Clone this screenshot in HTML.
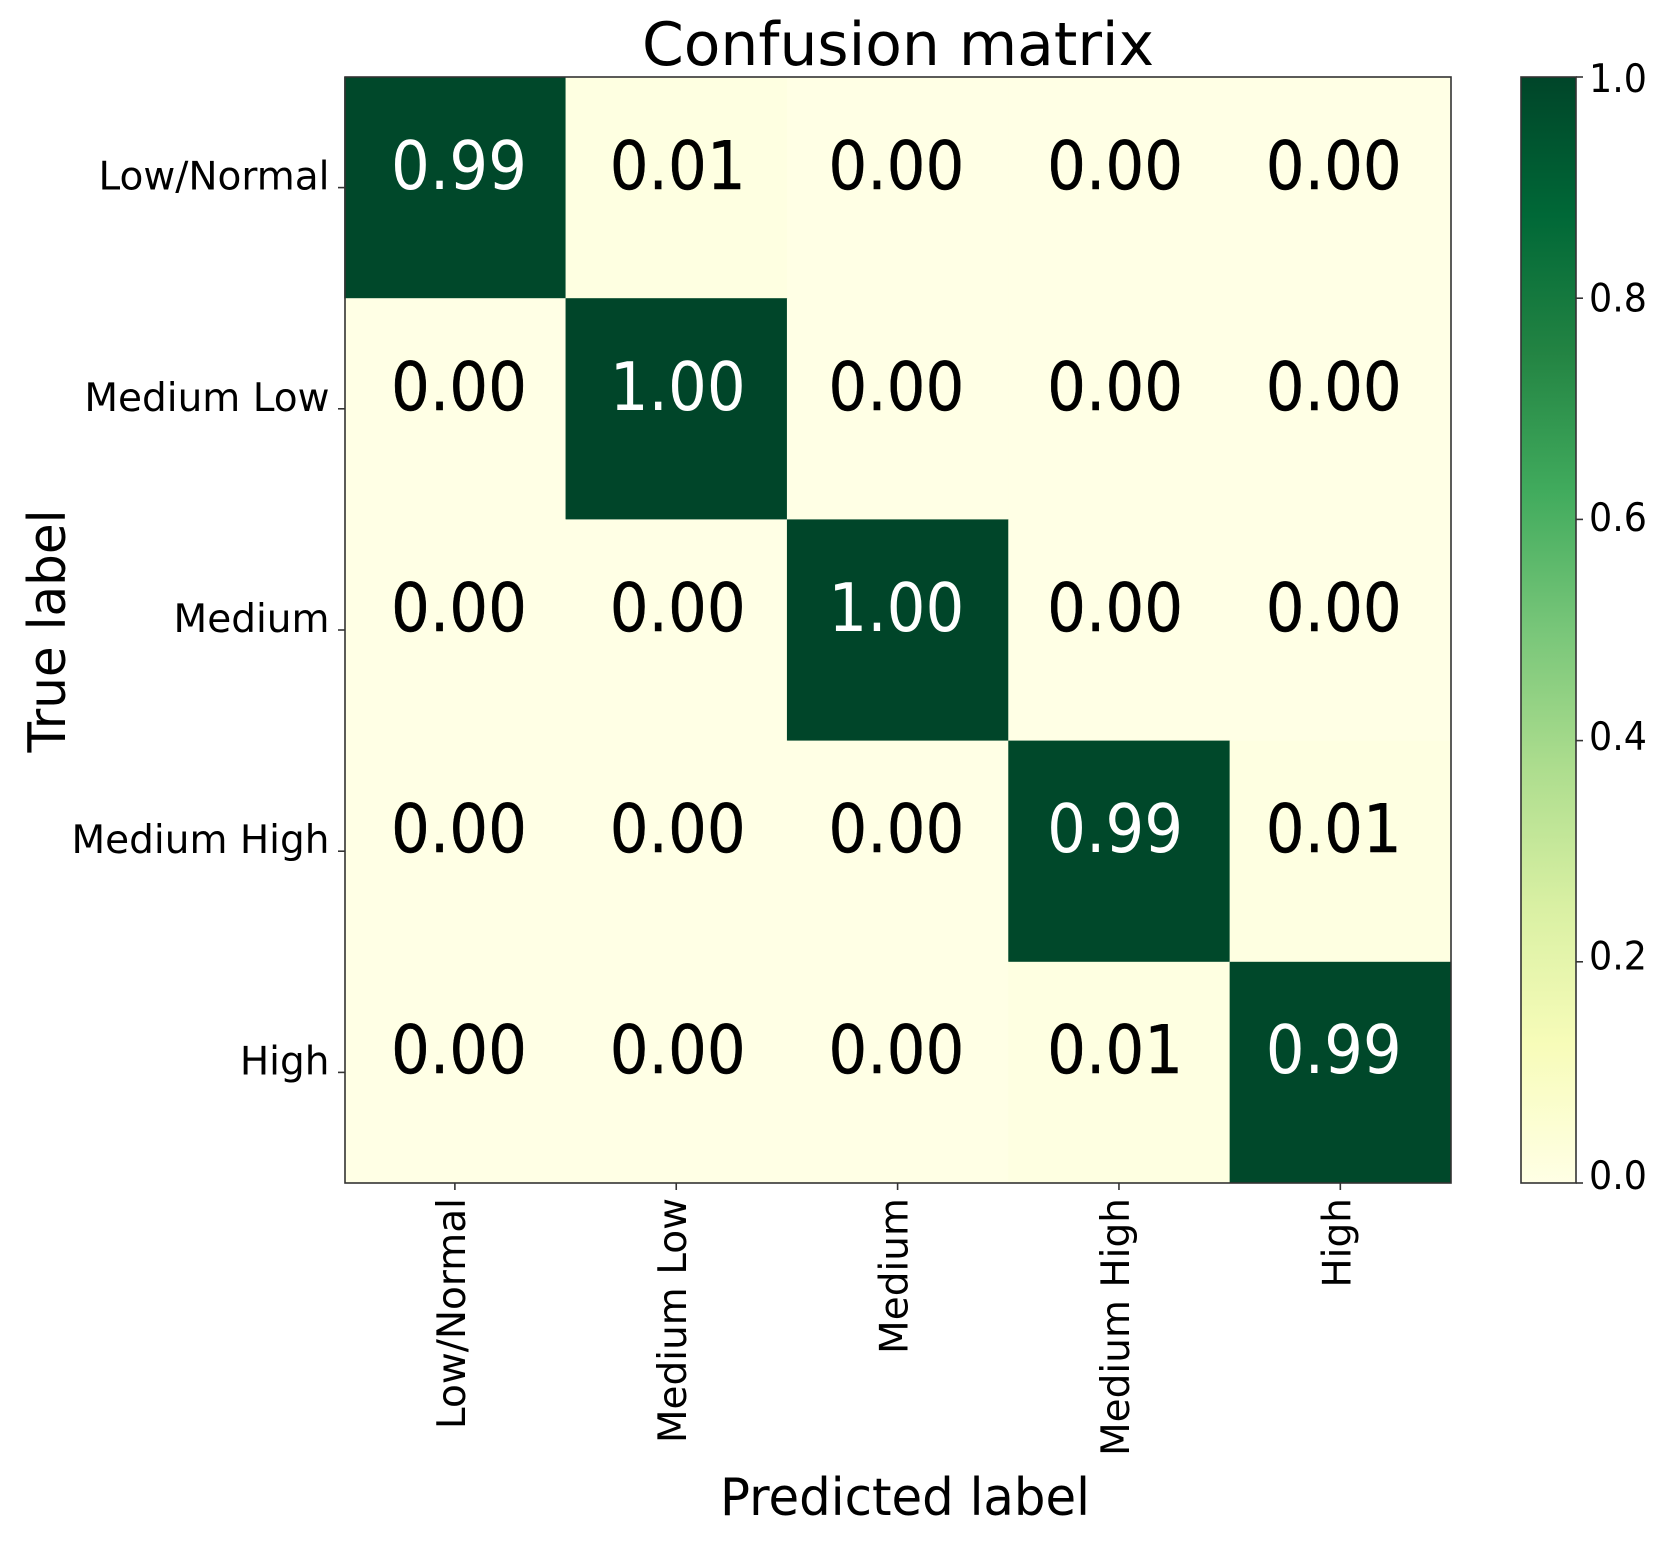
<!DOCTYPE html>
<html lang="en">
<head>
<meta charset="utf-8">
<title>Confusion matrix</title>
<style>
  html, body { margin: 0; padding: 0; background: #ffffff; }
  body { width: 1672px; height: 1547px; overflow: hidden; }
  svg { display: block; }
  text { font-family: "DejaVu Sans", "Liberation Sans", sans-serif; fill: #000; }
</style>
</head>
<body>
<svg id="chart" xmlns="http://www.w3.org/2000/svg" width="1672" height="1547" viewBox="0 0 1672 1547">
  <defs>
    <linearGradient id="ylgn" x1="0" y1="1" x2="0" y2="0"></linearGradient>
  </defs>
  <rect x="0" y="0" width="1672" height="1547" fill="#ffffff"></rect>
  <text x="898" y="65" font-size="60" text-anchor="middle" textLength="512" lengthAdjust="spacingAndGlyphs">Confusion matrix</text>
  <text x="905" y="1515" font-size="52" text-anchor="middle" textLength="370" lengthAdjust="spacingAndGlyphs">Predicted label</text>
  <text transform="translate(65,631) rotate(-90)" font-size="52" text-anchor="middle" textLength="243" lengthAdjust="spacingAndGlyphs">True label</text>
  <g id="cells"></g>
  <g id="values"></g>
  <rect x="345" y="77" width="1106" height="1106" fill="none" stroke="#333333" stroke-width="1.6"></rect>
  <g id="x-ticks"></g>
  <g id="y-ticks"></g>
  <rect x="1521" y="77" width="55" height="1106" fill="url(#ylgn)" stroke="#333333" stroke-width="1.6"></rect>
  <g id="cbar-ticks"></g>
</svg>
<script>
const classLabels = ["Low/Normal", "Medium Low", "Medium", "Medium High", "High"];
const row0 = [0.99, 0.01, 0.00, 0.00, 0.00];
const row1 = [0.00, 1.00, 0.00, 0.00, 0.00];
const row2 = [0.00, 0.00, 1.00, 0.00, 0.00];
const row3 = [0.00, 0.00, 0.00, 0.99, 0.01];
const row4 = [0.00, 0.00, 0.00, 0.01, 0.99];
const matrixRows = [row0, row1, row2, row3, row4];
const colorbarTicks = [0.0, 0.2, 0.4, 0.6, 0.8, 1.0];
const colormap = ["#ffffe5", "#f7fcb9", "#d9f0a3", "#addd8e", "#78c679", "#41ab5d", "#238443", "#006837", "#004529"];

const NS = "http://www.w3.org/2000/svg";
const plot = { left: 344.2, top: 77, width: 1106.8, height: 1106 };
const bar = { left: 1521, right: 1576, top: 77, bottom: 1183 };
const cellW = plot.width / classLabels.length;
const cellH = plot.height / classLabels.length;

function colX(i) { return plot.left + i * cellW; }
function rowY(i) { return plot.top + i * cellH; }
function tickX(i) { return colX(i) + cellW / 2; }
function tickY(i) { return rowY(i) + cellH / 2; }
function valueX(i) { return 459 + i * 218.7; }
function valueY(i) { return 189 + i * 221; }
function cbarY(v) { return bar.bottom - v * (bar.bottom - bar.top); }
function cbarLabelY(v) { return 1189 - v * 1097; }

function hexToRgb(h) {
  return [1, 3, 5].map(function (p) { return parseInt(h.substr(p, 2), 16); });
}
function cmap(v) {
  const t = Math.max(0, Math.min(1, v)) * (colormap.length - 1);
  const a = Math.min(Math.floor(t), colormap.length - 2);
  const f = t - a;
  const c0 = hexToRgb(colormap[a]);
  const c1 = hexToRgb(colormap[a + 1]);
  const rgb = c0.map(function (c, k) { return Math.round(c + (c1[k] - c) * f); });
  return "rgb(" + rgb.join(",") + ")";
}
function make(tag, attrs, parent, content) {
  const el = document.createElementNS(NS, tag);
  Object.keys(attrs).forEach(function (k) { el.setAttribute(k, attrs[k]); });
  if (content !== undefined) { el.textContent = content; }
  parent.appendChild(el);
  return el;
}

const gradient = document.getElementById("ylgn");
colormap.forEach(function (c, i) {
  make("stop", { offset: i / (colormap.length - 1), "stop-color": c }, gradient);
});

const cellsGroup = document.getElementById("cells");
const valuesGroup = document.getElementById("values");
matrixRows.forEach(function (row, r) {
  row.forEach(function (v, c) {
    const rect = make("rect", { x: colX(c), y: rowY(r), width: cellW + 0.5, height: cellH + 0.5, fill: cmap(v) }, cellsGroup);
    
    
    const dark = v > 0.5;
    const label = make("text", {
      x: valueX(c), y: valueY(r), "font-size": 67, "text-anchor": "middle",
      textLength: 136, lengthAdjust: "spacingAndGlyphs",
      style: dark ? "fill:#ffffff" : "fill:#000000;stroke:#000000;stroke-width:0.4"
    }, valuesGroup, v.toFixed(2));
    
    
  });
});

const xTicks = document.getElementById("x-ticks");
const yTicks = document.getElementById("y-ticks");
classLabels.forEach(function (name, i) {
  const xMark = make("line", { x1: tickX(i), x2: tickX(i), y1: 1183, y2: 1190, stroke: "#333333", "stroke-width": 1.6 }, xTicks);
  
  
  const xLabel = make("text", {
    transform: "translate(" + (tickX(i) + 10) + ",1198) rotate(-90)",
    "font-size": 39, "text-anchor": "end"
  }, xTicks, name);
  
  

  const yMark = make("line", { x1: 338, x2: 345, y1: tickY(i), y2: tickY(i), stroke: "#333333", "stroke-width": 1.6 }, yTicks);
  
  
  const yLabel = make("text", {
    x: 329.5, y: tickY(i) + 2, "font-size": 39, "text-anchor": "end"
  }, yTicks, name);
  
  
});

const cbarGroup = document.getElementById("cbar-ticks");
colorbarTicks.forEach(function (v) {
  const mark = make("line", { x1: bar.right, x2: 1583, y1: cbarY(v), y2: cbarY(v), stroke: "#333333", "stroke-width": 1.6 }, cbarGroup);
  
  
  const label = make("text", {
    x: 1589, y: cbarLabelY(v), "font-size": 39,
    textLength: 58, lengthAdjust: "spacingAndGlyphs"
  }, cbarGroup, v.toFixed(1));
  
  
});
</script>
</body>
</html>
